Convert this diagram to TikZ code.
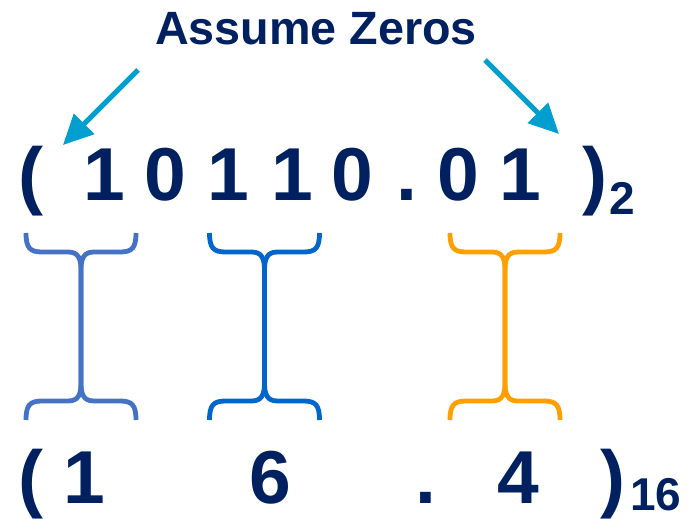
\documentclass[tikz,border=0pt]{standalone}
\usepackage{fontspec}
\setmainfont{Liberation Sans}
\usetikzlibrary{arrows.meta}
\definecolor{navy}{HTML}{002060}
\definecolor{hintblue}{HTML}{009FCF}
\definecolor{braceA}{HTML}{4472C4}
\definecolor{braceB}{HTML}{0066CC}
\definecolor{braceC}{HTML}{FF9F00}
\tikzstyle{digit} = [text=navy, font=\bfseries\fontsize{75}{75}\selectfont,
    inner sep=0pt, anchor=base]
\tikzstyle{radix} = [digit, font=\bfseries\fontsize{46}{46}\selectfont]
\tikzstyle{title} = [digit, font=\bfseries\fontsize{46.7}{46.7}\selectfont]
\tikzstyle{hint} = [draw=hintblue, line width=5pt,
    -{Triangle[length=30pt,width=28pt]}]
\tikzstyle{brace} = [line width=4.8pt]

% one I-shaped brace: #1 colour, #2 centre x
\newcommand{\groupbrace}[2]{%
  \draw[brace,#1] (#2-55,233) .. controls (#2-55,248) and (#2-51,252) .. (#2-39,252)
     -- (#2-13,252) .. controls (#2-3,252) and (#2,258) .. (#2,270) -- (#2,383)
     .. controls (#2,395) and (#2-3,401) .. (#2-13,401) -- (#2-39,401)
     .. controls (#2-51,401) and (#2-55,405) .. (#2-55,420);
  \draw[brace,#1] (#2+55,233) .. controls (#2+55,248) and (#2+51,252) .. (#2+39,252)
     -- (#2+13,252) .. controls (#2+3,252) and (#2,258) .. (#2,270) -- (#2,383)
     .. controls (#2,395) and (#2+3,401) .. (#2+13,401) -- (#2+39,401)
     .. controls (#2+51,401) and (#2+55,405) .. (#2+55,420);
}

\begin{document}
\begin{tikzpicture}[x=1pt,y=-1pt]
  \useasboundingbox (0,0) rectangle (689,519);

  \node[title] (assume) at (316,45) {Assume Zeros};

  % binary number
  \node[digit] (bl) at (31,200)  {(};
  \node[digit] (b1) at (104,200) {1};
  \node[digit] (b2) at (165,200) {0};
  \node[digit] (b3) at (228,200) {1};
  \node[digit] (b4) at (292,200) {1};
  \node[digit] (b5) at (352,200) {0};
  \node[digit] (bp) at (407,200) {.};
  \node[digit] (b6) at (458,200) {0};
  \node[digit] (b7) at (520,200) {1};
  \node[digit] (br) at (595,200) {)};
  \node[radix] (b2s) at (622,214) {2};

  % padding hints
  \coordinate (lt) at (138,70);
  \coordinate (lh) at (63,145);
  \coordinate (rt) at (485,60);
  \coordinate (rh) at (559,134);
  \draw[hint] (lt) -- (lh);
  \draw[hint] (rt) -- (rh);

  % groups of four bits
  \groupbrace{braceA}{81}
  \groupbrace{braceB}{264.5}
  \groupbrace{braceC}{505}

  % hexadecimal number
  \node[digit] (hl) at (31,503)  {(};
  \node[digit] (h1) at (84,503)  {1};
  \node[digit] (h2) at (270.5,503) {6};
  \node[digit] (hp) at (425.5,503) {.};
  \node[digit] (h3) at (518,503) {4};
  \node[digit] (hr) at (613,503) {)};
  \node[radix] (h16) at (656,510) {16};
\end{tikzpicture}
\end{document}
